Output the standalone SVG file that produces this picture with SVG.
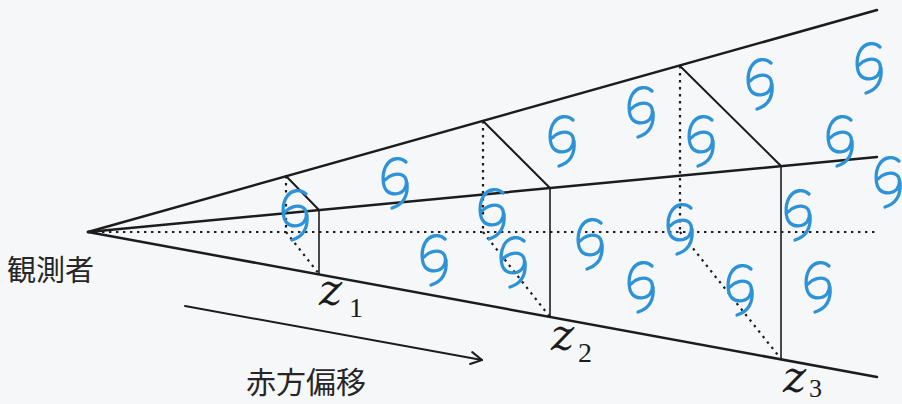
<svg xmlns="http://www.w3.org/2000/svg" xmlns:xlink="http://www.w3.org/1999/xlink" width="902" height="404" viewBox="0 0 902 404">
  <style>
    .ray { stroke: #1c1c1c; stroke-width: 2.5; fill: none; stroke-linecap: round; }
    .edge { stroke: #1c1c1c; stroke-width: 2; fill: none; stroke-linecap: round; }
    .post { stroke: #1c1c1c; stroke-width: 1.6; fill: none; }
    .dot { stroke: #1c1c1c; stroke-width: 2.2; fill: none; stroke-dasharray: 2.4 4.6; }
    .gal { stroke: #2e92d6; stroke-width: 3.3; fill: none; stroke-linecap: round; stroke-linejoin: round; }
    .jp { font-family: "Noto Sans CJK JP", "Noto Sans", sans-serif; fill: #262626; }
    .zv { font-family: "DejaVu Serif", "Liberation Serif", serif; font-style: italic; fill: #1c1c1c; }
    .zs { font-family: "Liberation Serif", serif; fill: #1c1c1c; }
  </style>
  <defs>
    <!-- spiral galaxy glyph, centred on its own origin -->
    <g id="galaxy" class="gal">
      <path d="M 11,-21 C 6,-26 -4,-26 -9,-17 C -13,-10 -13,3 -8,8 C -4,12 5,12 9,7 C 13,2 12,-6 7,-8 C 2,-10 -6,-8 -10,-3"/>
      <path d="M 12,0 C 13,11 10,21 -3,25"/>
    </g>
    <marker id="open-head" viewBox="0 0 14 14" refX="12" refY="7" markerWidth="14" markerHeight="14" markerUnits="userSpaceOnUse" orient="auto">
      <path d="M 1,1 L 12,7 L 1,13" fill="none" stroke="#1c1c1c" stroke-width="2" stroke-linecap="round" stroke-linejoin="round"/>
    </marker>
  </defs>

  <rect width="902" height="404" fill="#f6f7f9"/>

  <g id="connectors">
    <!-- line of sight fan from the observer -->
    <line class="ray" x1="88" y1="232" x2="877" y2="10"/>
    <line class="ray" x1="88" y1="232" x2="877" y2="157"/>
    <line class="ray" x1="88" y1="232" x2="877" y2="377"/>
    <line class="dot" x1="88" y1="232" x2="877" y2="232"/>

    <!-- shell at z1 -->
    <line class="edge" x1="286" y1="176" x2="319" y2="210"/>
    <line class="post" x1="319" y1="210" x2="319" y2="274"/>
    <line class="dot" x1="286" y1="176" x2="286" y2="232"/>
    <line class="dot" x1="286" y1="232" x2="319" y2="274"/>

    <!-- shell at z2 -->
    <line class="edge" x1="483" y1="121" x2="550" y2="188"/>
    <line class="post" x1="550" y1="188" x2="550" y2="317"/>
    <line class="dot" x1="483" y1="121" x2="483" y2="232"/>
    <line class="dot" x1="483" y1="232" x2="550" y2="317"/>

    <!-- shell at z3 -->
    <line class="edge" x1="680" y1="66" x2="781" y2="166"/>
    <line class="post" x1="781" y1="166" x2="781" y2="359"/>
    <line class="dot" x1="680" y1="66" x2="680" y2="232"/>
    <line class="dot" x1="680" y1="232" x2="781" y2="359"/>

    <!-- redshift direction -->
    <line class="edge" x1="185" y1="306" x2="482" y2="360" marker-end="url(#open-head)"/>
  </g>

  <g id="galaxies">
    <g id="galaxy-01"><use xlink:href="#galaxy" x="295" y="215"/></g>
    <g id="galaxy-02"><use xlink:href="#galaxy" x="395" y="183"/></g>
    <g id="galaxy-03"><use xlink:href="#galaxy" x="434" y="260"/></g>
    <g id="galaxy-04"><use xlink:href="#galaxy" x="492" y="214"/></g>
    <g id="galaxy-05"><use xlink:href="#galaxy" x="513" y="262"/></g>
    <g id="galaxy-06"><use xlink:href="#galaxy" x="562" y="141"/></g>
    <g id="galaxy-07"><use xlink:href="#galaxy" x="590" y="244"/></g>
    <g id="galaxy-08"><use xlink:href="#galaxy" x="641" y="112"/></g>
    <g id="galaxy-09"><use xlink:href="#galaxy" x="641" y="287"/></g>
    <g id="galaxy-10"><use xlink:href="#galaxy" x="680" y="229"/></g>
    <g id="galaxy-11"><use xlink:href="#galaxy" x="701" y="141"/></g>
    <g id="galaxy-12"><use xlink:href="#galaxy" x="740" y="290"/></g>
    <g id="galaxy-13"><use xlink:href="#galaxy" x="760" y="84"/></g>
    <g id="galaxy-14"><use xlink:href="#galaxy" x="798" y="215"/></g>
    <g id="galaxy-15"><use xlink:href="#galaxy" x="818" y="287"/></g>
    <g id="galaxy-16"><use xlink:href="#galaxy" x="840" y="141"/></g>
    <g id="galaxy-17"><use xlink:href="#galaxy" x="869" y="68"/></g>
    <g id="galaxy-18"><use xlink:href="#galaxy" x="888" y="182"/></g>
  </g>

  <g id="observer">
    <text class="jp" x="7" y="281" font-size="29">観測者</text>
  </g>

  <g id="redshift-label">
    <text class="jp" x="246" y="393" font-size="30">赤方偏移</text>
  </g>

  <g id="label-z1">
    <text class="zv" x="319" y="305" font-size="44">z</text>
    <text class="zs" x="349" y="317" font-size="28">1</text>
  </g>
  <g id="label-z2">
    <text class="zv" x="551" y="350" font-size="44">z</text>
    <text class="zs" x="578" y="362" font-size="28">2</text>
  </g>
  <g id="label-z3">
    <text class="zv" x="783" y="392" font-size="44">z</text>
    <text class="zs" x="809" y="397" font-size="26">3</text>
  </g>
</svg>
